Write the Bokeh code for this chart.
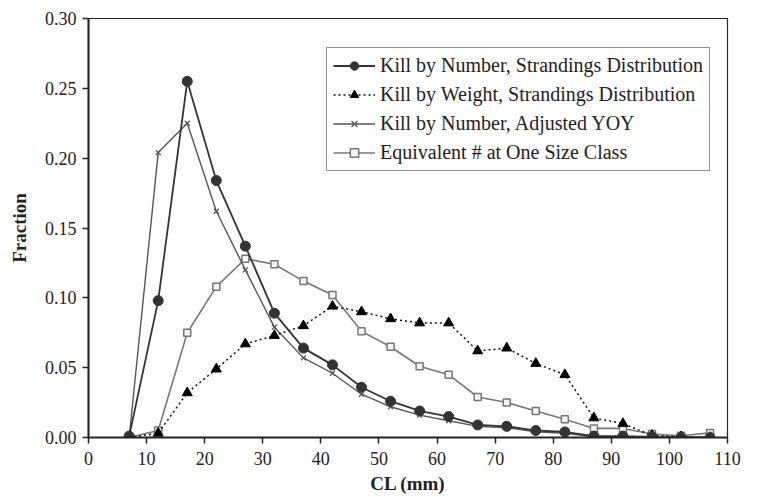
from bokeh.plotting import figure
from bokeh.models import Legend, LegendItem, FixedTicker, NumeralTickFormatter, Range1d
from bokeh.embed import file_html
from bokeh.resources import INLINE

cl = [7, 12, 17, 22, 27, 32, 37, 42, 47, 52, 57, 62, 67, 72, 77, 82, 87, 92, 97, 102, 107]
kill_num_strand = [0.001, 0.098, 0.255, 0.184, 0.137, 0.089, 0.064, 0.052, 0.036, 0.026, 0.019,
                   0.015, 0.009, 0.008, 0.005, 0.004, 0.001, 0.001, 0.0005, 0.0, 0.0]
kill_wt_strand = [0.0, 0.003, 0.032, 0.049, 0.067, 0.073, 0.080, 0.094, 0.090, 0.085, 0.082,
                  0.082, 0.062, 0.064, 0.053, 0.045, 0.014, 0.010, 0.0015, 0.0005, 0.0]
kill_num_yoy = [0.0, 0.204, 0.225, 0.162, 0.120, 0.079, 0.057, 0.046, 0.031, 0.022, 0.016,
                0.012, 0.008, 0.007, 0.004, 0.003, 0.0005, 0.0005, 0.0, 0.0, 0.0]
equiv_one = [0.0, 0.005, 0.075, 0.108, 0.128, 0.124, 0.112, 0.102, 0.076, 0.065, 0.051,
             0.045, 0.029, 0.025, 0.019, 0.013, 0.0065, 0.0065, 0.0025, 0.0012, 0.0033]
labels = ["Kill by Number, Strandings Distribution",
          "Kill by Weight, Strandings Distribution",
          "Kill by Number, Adjusted YOY",
          "Equivalent # at One Size Class"]
x_ticks = [0, 10, 20, 30, 40, 50, 60, 70, 80, 90, 100, 110]
y_ticks = [0.0, 0.05, 0.10, 0.15, 0.20, 0.25, 0.30]

FONT = "Liberation Serif"

p = figure(width=756, height=496, output_backend="svg", toolbar_location=None,
           x_range=Range1d(0, 110), y_range=Range1d(0, 0.30),
           min_border_left=88, min_border_right=29, min_border_top=18, min_border_bottom=58)
p.grid.visible = False
p.outline_line_color = "#222222"
p.outline_line_width = 1.2

r4_l = p.line(cl, equiv_one, line_color="#777777", line_width=1.6)
r4_m = p.scatter(cl, equiv_one, marker="square", size=7, line_color="#777777", fill_color="#f4f4f4", line_width=1.5)
r3_l = p.line(cl, kill_num_yoy, line_color="#555555", line_width=1.4)
r3_m = p.scatter(cl, kill_num_yoy, marker="x", size=7, line_color="#555555", line_width=1.3)
r2_l = p.line(cl, kill_wt_strand, line_color="#111111", line_width=1.5, line_dash="2 3")
r2_m = p.scatter(cl, kill_wt_strand, marker="triangle", size=10, line_color="black", fill_color="black")
r1_l = p.line(cl, kill_num_strand, line_color="#333333", line_width=1.8)
r1_m = p.scatter(cl, kill_num_strand, marker="circle", size=10, line_color="#333333", fill_color="#333333")

legend = Legend(items=[
    LegendItem(label=labels[0], renderers=[r1_l, r1_m]),
    LegendItem(label=labels[1], renderers=[r2_l, r2_m]),
    LegendItem(label=labels[2], renderers=[r3_l, r3_m]),
    LegendItem(label=labels[3], renderers=[r4_l, r4_m]),
], location=(238, 266))
legend.label_text_font = FONT
legend.label_text_font_size = "20px"
legend.label_text_color = "#222222"
legend.border_line_color = "#222222"
legend.border_line_width = 1.2
legend.glyph_width = 42
legend.glyph_height = 21
legend.label_height = 21
legend.spacing = 6
legend.padding = 6
legend.margin = 0
legend.label_standoff = 5
legend.background_fill_alpha = 1
p.add_layout(legend)

for ax in (p.xaxis[0], p.yaxis[0]):
    ax.axis_line_color = "#222222"
    ax.axis_line_width = 2
    ax.major_tick_line_color = "#222222"
    ax.major_tick_line_width = 1.5
    ax.major_tick_in = 0
    ax.major_tick_out = 6
    ax.minor_tick_line_color = None
    ax.major_label_text_font = FONT
    ax.major_label_text_font_size = "18px"
    ax.major_label_text_color = "#222222"
    ax.axis_label_text_font = FONT
    ax.axis_label_text_font_size = "19px"
    ax.axis_label_text_font_style = "bold"
    ax.axis_label_text_color = "#222222"

p.xaxis[0].ticker = FixedTicker(ticks=x_ticks)
p.yaxis[0].ticker = FixedTicker(ticks=y_ticks)
p.yaxis[0].formatter = NumeralTickFormatter(format="0.00")
p.xaxis[0].axis_label = "CL (mm)"
p.yaxis[0].axis_label = "Fraction"
p.xaxis[0].major_label_standoff = 8
p.xaxis[0].axis_label_standoff = 5
p.yaxis[0].major_label_standoff = 6
p.yaxis[0].axis_label_standoff = 12

open("out.html", "w").write(file_html(p, INLINE))
